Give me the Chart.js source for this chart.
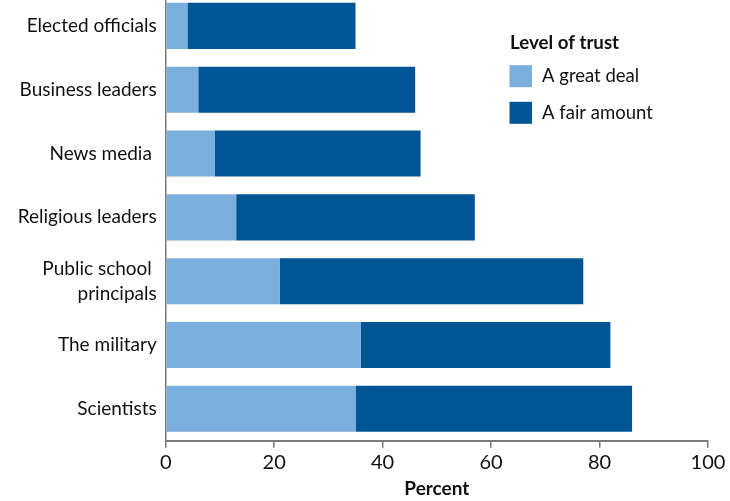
<!DOCTYPE html>
<html>
<head>
<meta charset="utf-8">
<script src="https://cdn.jsdelivr.net/npm/chart.js@4.4.1/dist/chart.umd.min.js"></script>
<style>
  html, body { margin: 0; padding: 0; background: #fff; overflow: hidden; }
  #wrap { position: absolute; left: 0; top: -6px; width: 730px; height: 507px; }
</style>
</head>
<body>
<div id="wrap"><canvas id="c"></canvas></div>
<script>
const categories = [
  'Elected officials',
  'Business leaders',
  'News media ',
  'Religious leaders',
  ['Public school ', 'principals'],
  'The military',
  'Scientists'
];
const greatDeal = [4, 6, 9, 13, 21, 36, 35];
const fairAmount = [31, 40, 38, 44, 56, 46, 51];
const xTicks = [0, 20, 40, 60, 80, 100];
const seriesNames = ['A great deal', 'A fair amount'];
const legendTitle = 'Level of trust';
const axisTitle = 'Percent';

const FONT = 'Lato, "Open Sans", sans-serif';

const legendPlugin = {
  id: 'customLegend',
  afterDraw(chart) {
    const ctx = chart.ctx;
    const x0 = 509.5, top = 6;
    ctx.save();
    ctx.fillStyle = '#111';
    ctx.font = 'bold 18.7px ' + FONT;
    ctx.textBaseline = 'middle';
    ctx.textAlign = 'left';
    ctx.fillText(legendTitle, x0 + 0.5, top + 42.5);
    const rows = [76.2, 112.8];
    chart.data.datasets.forEach((ds, i) => {
      const cy = top + rows[i];
      ctx.fillStyle = ds.backgroundColor;
      ctx.fillRect(x0, cy - 11, 22.5, 22);
      ctx.fillStyle = '#111';
      ctx.font = '18.5px ' + FONT;
      ctx.fillText(ds.label, x0 + 32.5, cy);
    });
    ctx.restore();
  }
};

new Chart(document.getElementById('c'), {
  type: 'bar',
  data: {
    labels: categories,
    datasets: [
      { label: seriesNames[0], data: greatDeal, backgroundColor: '#7aaedd', borderWidth: 0 },
      { label: seriesNames[1], data: fairAmount, backgroundColor: '#005595', borderWidth: 0 }
    ]
  },
  options: {
    indexAxis: 'y',
    responsive: true,
    maintainAspectRatio: false,
    animation: false,
    devicePixelRatio: 1,
    categoryPercentage: 1,
    barPercentage: 0.722,
    layout: { padding: { left: 0, right: 22, top: 0, bottom: 0 } },
    plugins: {
      legend: { display: false },
      tooltip: { enabled: false }
    },
    scales: {
      x: {
        stacked: true,
        min: 0,
        max: 100,
        afterBuildTicks(scale) { scale.ticks = xTicks.map(v => ({ value: v })); },
        afterFit(scale) { scale.height = 60.3; scale.paddingLeft = 0; },
        grid: { drawOnChartArea: false, drawTicks: true, tickLength: 7, color: '#7a7a7a', lineWidth: 1.5 },
        border: { display: true, color: '#7a7a7a', width: 2 },
        ticks: { color: '#111', font: { family: FONT, size: 20 }, padding: 3, maxRotation: 0 },
        title: { display: true, text: axisTitle, color: '#111', font: { family: FONT, size: 19, weight: 'bold' }, padding: { top: 0, bottom: 1 } }
      },
      y: {
        stacked: true,
        afterFit(scale) { scale.width = 165.7; scale.paddingTop = 0; scale.paddingBottom = 0; },
        grid: { display: false, drawTicks: false },
        border: { display: true, color: '#7a7a7a', width: 1.5 },
        ticks: { color: '#111', font: { family: FONT, size: 19, lineHeight: 1.3 }, padding: 9, crossAlign: 'near' }
      }
    }
  },
  plugins: [legendPlugin]
});
</script>
</body>
</html>
